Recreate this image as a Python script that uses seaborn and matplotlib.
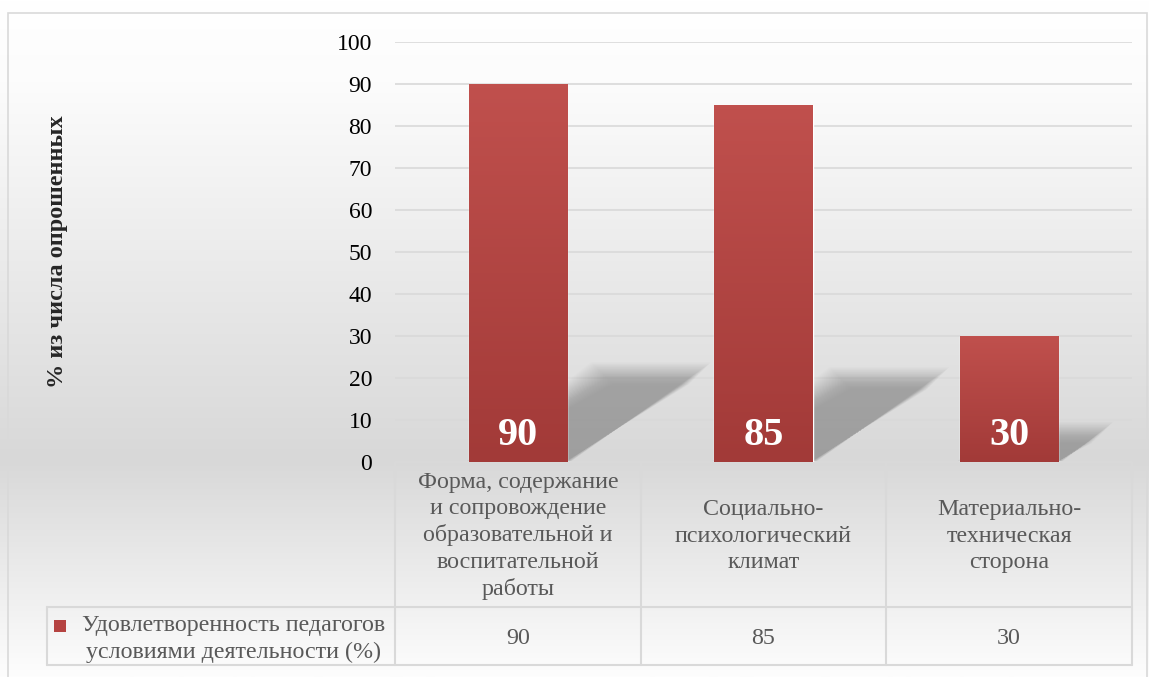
import matplotlib
matplotlib.use("Agg")
import matplotlib.pyplot as plt
import matplotlib.patches as mpatches
from matplotlib.colors import LinearSegmentedColormap
import numpy as np
import pandas as pd
import seaborn as sns

# data
categories = ["Форма, содержание\nи сопровождение\nобразовательной и\nвоспитательной\nработы",
              "Социально-\nпсихологический\nклимат",
              "Материально-\nтехническая\nсторона"]
values = [90, 85, 30]
series_name = "Удовлетворенность педагогов\nусловиями деятельности (%)"
y_label = "% из числа опрошенных"
y_ticks = list(range(0, 101, 10))

W, H = 1149, 677
sns.set_theme(style="white")
plt.rcParams["font.family"] = ["Liberation Serif", "DejaVu Serif"]

fig = plt.figure(figsize=(W / 100, H / 100), dpi=100)

# background gradient (white -> grey -> white)
bg = fig.add_axes([0, 0, 1, 1], zorder=-10)
bg_cmap = LinearSegmentedColormap.from_list(
    "bg", [(0, "#ffffff"), (0.12, "#fcfcfc"), (0.68, "#d8d8d8"), (1.0, "#fdfdfd")])
bg.imshow(np.linspace(0, 1, 256).reshape(-1, 1), aspect="auto", cmap=bg_cmap,
          extent=[0, 1, 0, 1], origin="upper")
bg.set_xlim(0, 1)
bg.set_ylim(0, 1)
bg.axis("off")
bg.add_patch(mpatches.Rectangle((8 / W, -0.01), (1147 - 8) / W, 1 - 13 / H + 0.01,
                                fill=False, edgecolor="#d9d9d9", lw=1.2))

# plot area in pixels
x0, x1, y0, y1 = 395, 1132, 42, 462
ax = fig.add_axes([x0 / W, 1 - y1 / H, (x1 - x0) / W, (y1 - y0) / H])
ax.set_facecolor("none")

df = pd.DataFrame({"cat": categories, "val": values})
sns.barplot(data=df, x="cat", y="val", color="#b54341", width=0.4, ax=ax,
            saturation=1, zorder=3)

ax.set_ylim(0, 100)
ax.set_xlim(-0.5, len(categories) - 0.5)
ax.set_yticks(y_ticks)
ax.set_yticklabels([str(t) for t in y_ticks], fontsize=17, color="#000000")
ax.tick_params(axis="y", length=0, pad=16.5)
ax.set_xticks([])
ax.set_xlabel("")
ax.set_ylabel("")
ax.grid(axis="y", color="#d9d9d9", lw=1.2, zorder=0)
for s in ax.spines.values():
    s.set_visible(False)

fig.text(58 / W, 1 - 252 / H, y_label, rotation=90, fontsize=17.5, fontweight="bold",
         ha="center", va="center")

# bar gradients, shadows and labels
bar_cmap = LinearSegmentedColormap.from_list("bar", ["#c0504d", "#a23a38"])
px_per_x = (x1 - x0) / len(categories)
px_per_y = (y1 - y0) / 100
n_layers = 36
blur = 11  # px
for patch, v in zip(ax.patches, values):
    bx, bw, bh = patch.get_x(), patch.get_width(), patch.get_height()
    # perspective shadow, soft edges from stacked translucent layers
    sh = 0.235 * bh
    dx = 1.5 * sh * px_per_y / px_per_x
    for k in range(n_layers):
        off = blur * (1 - 2 * k / (n_layers - 1))  # outset -> inset
        ox = off / px_per_x
        oy = off / px_per_y
        top = max(sh + oy, 0.2)
        poly = mpatches.Polygon(
            [(bx - ox * 0.3, 0), (bx + bw + ox * 0.3, 0),
             (bx + bw + dx + ox, top), (bx + dx - ox, top)],
            closed=True, facecolor="#6e6e6e", edgecolor="none", alpha=0.017, zorder=1)
        ax.add_patch(poly)
    im = ax.imshow(np.linspace(0, 1, 100).reshape(-1, 1), cmap=bar_cmap, aspect="auto",
                   extent=[bx, bx + bw, 0, bh], origin="upper", zorder=3)
    im.set_clip_path(patch)
    ax.text(bx + bw / 2, 4, str(v), ha="center", va="baseline", fontsize=29,
            fontweight="bold", color="white", zorder=5)
ax.set_xlim(-0.5, len(categories) - 0.5)
ax.set_ylim(0, 100)

# data table
line_kw = dict(color="#d9d9d9", lw=1.5, transform=ax.transAxes, clip_on=False)
def fy(p):
    return (y1 - p) / (y1 - y0)
def fx(p):
    return (p - x0) / (x1 - x0)
r1, r2 = 607, 665
ax.plot([0, 1], [0, 0], **line_kw)
ax.plot([fx(47), 1], [fy(r1), fy(r1)], **line_kw)
ax.plot([fx(47), 1], [fy(r2), fy(r2)], **line_kw)
for i in range(len(categories) + 1):
    xx = i / len(categories)
    ax.plot([xx, xx], [0, fy(r2)], **line_kw)
ax.plot([fx(47), fx(47)], [fy(r1), fy(r2)], **line_kw)

trans = ax.get_xaxis_transform()
for i, (c, v) in enumerate(zip(categories, values)):
    ax.text(i, fy(536), c, transform=trans, ha="center", va="center",
            fontsize=17.3, color="#595959", linespacing=1.33, clip_on=False)
    ax.text(i, fy(639), str(v), transform=trans, ha="center", va="center",
            fontsize=17.3, color="#595959", clip_on=False)

fig.text(234 / W, 1 - 639 / H, series_name, ha="center", va="center", fontsize=17.3,
         color="#595959", linespacing=1.3)
fig.patches.append(mpatches.Rectangle((54 / W, 1 - 632 / H), 12 / W, 12 / H,
                                      transform=fig.transFigure, facecolor="#b54341",
                                      edgecolor="none", figure=fig))

fig.savefig("out.png", dpi=100)
